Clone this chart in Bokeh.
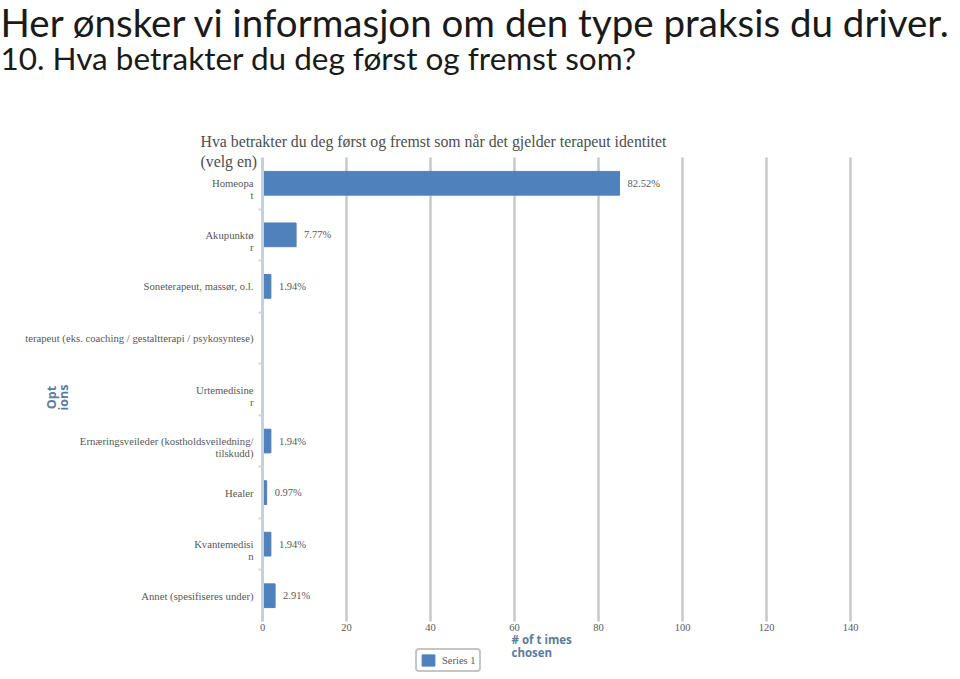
from bokeh.plotting import figure
from bokeh.models import (Range1d, FixedTicker, Label, LabelSet, Grid,
                          ColumnDataSource, Legend, LegendItem)
from bokeh.embed import file_html
from bokeh.resources import INLINE

# ---- data ----
slide_title_1 = "Her ønsker vi informasjon om den type praksis du driver."
slide_title_2 = "10. Hva betrakter du deg først og fremst som?"
chart_title = "Hva betrakter du deg først og fremst som når det gjelder terapeut identitet\n(velg en)"
categories = [
    "Homeopa\nt",
    "Akupunktø\nr",
    "Soneterapeut, massør, o.l.",
    "terapeut (eks. coaching / gestaltterapi / psykosyntese)",
    "Urtemedisine\nr",
    "Ernæringsveileder (kostholdsveiledning/\ntilskudd)",
    "Healer",
    "Kvantemedisi\nn",
    "Annet (spesifiseres under)",
]
counts = [85, 8, 2, 0, 0, 2, 1, 2, 3]
x_ticks = [0, 20, 40, 60, 80, 100, 120, 140]
series_name = "Series 1"
y_axis_title = "Opt\nions"
x_axis_title = "# of t imes\nchosen"

total = sum(counts)
pct_labels = ["%.2f%%" % (c / total * 100) for c in counts]
slots = list(range(len(categories)))  # category slot, 0 = top

# ---- layout constants (pixels) ----
W, H = 956, 677
X0_PX = 262          # pixel of value 0
PX_PER_UNIT = 4.2
TOP_PX, BOT_PX = 157, 621
SLOT_PX = (BOT_PX - TOP_PX) / len(categories)

def sx(px):
    return px

def sy(py):
    return H - py

BAR = "#4f81bd"
TXT = "#595959"
AX = "#5d7b9b"
SERIF = "Liberation Serif"

x_range = Range1d(-X0_PX / PX_PER_UNIT, (W - X0_PX) / PX_PER_UNIT)
y_top = -TOP_PX / SLOT_PX - 0.5
y_bot = (H - TOP_PX) / SLOT_PX - 0.5
y_range = Range1d(start=y_bot, end=y_top)

p = figure(width=W, height=H, output_backend="svg", toolbar_location=None,
           x_range=x_range, y_range=y_range,
           min_border=0, min_border_left=0, min_border_right=0,
           min_border_top=0, min_border_bottom=0)
p.outline_line_color = None
p.background_fill_color = "white"
p.border_fill_color = "white"

src = ColumnDataSource(dict(slot=slots, count=counts, pct=pct_labels))
r = p.hbar(y="slot", right="count", left=0, height=0.46, source=src,
           fill_color=BAR, line_color=BAR)

nz = [i for i, c in enumerate(counts) if c > 0]
lsrc = ColumnDataSource(dict(slot=[slots[i] for i in nz],
                             count=[counts[i] for i in nz],
                             pct=[pct_labels[i] for i in nz]))
p.add_layout(LabelSet(x="count", y="slot", text="pct", source=lsrc, x_offset=8,
                      text_baseline="middle", text_font=SERIF,
                      text_font_size="10.5px", text_color=TXT))

# axes drawn inside the frame
band_lo, band_hi = -0.5, len(categories) - 0.5
xa = p.xaxis[0]
xa.fixed_location = band_hi
xa.ticker = FixedTicker(ticks=x_ticks)
xa.bounds = (x_ticks[0], x_ticks[-1])
xa.axis_line_color = None
xa.major_tick_line_color = None
xa.minor_tick_line_color = None
xa.major_tick_out = 0
xa.major_tick_in = 0
xa.minor_tick_out = 0
xa.major_label_standoff = 2
xa.major_label_text_font = SERIF
xa.major_label_text_font_size = "10.5px"
xa.major_label_text_color = TXT

# multi-line names: first line sits level with the bar, the rest below
tick_text = {s: ("\n" + c if "\n" in c else c) for s, c in zip(slots, categories)}
ya = p.yaxis[0]
ya.fixed_location = 0
ya.ticker = FixedTicker(ticks=slots, minor_ticks=[s + 0.5 for s in slots[:-1]])
ya.major_label_overrides = tick_text
ya.bounds = (band_lo, band_hi)
ya.axis_line_color = "#c6d0dc"
ya.axis_line_width = 3
ya.major_tick_line_color = None
ya.major_tick_out = 0
ya.major_tick_in = 0
ya.minor_tick_line_color = "#cfd6de"
ya.minor_tick_line_width = 2
ya.minor_tick_out = 4
ya.minor_tick_in = 0
ya.major_label_standoff = 5
ya.major_label_text_font = SERIF
ya.major_label_text_font_size = "10.7px"
ya.major_label_text_color = TXT
ya.major_label_text_line_height = 1.0

p.ygrid.grid_line_color = None
p.xgrid.ticker = FixedTicker(ticks=x_ticks[1:])
p.xgrid.grid_line_color = "#c8c8c8"
p.xgrid.grid_line_width = 2.5
if "cross_bounds" in Grid.properties():
    p.xgrid.cross_bounds = (band_lo, band_hi)
else:
    p.xgrid.grid_line_color = None
    p.segment(x0=x_ticks[1:], x1=x_ticks[1:], y0=band_lo, y1=band_hi,
              line_color="#c8c8c8", line_width=2.5, level="underlay")

# texts
p.add_layout(Label(x=sx(0), y=sy(21), x_units="screen", y_units="screen",
                   text=slide_title_1, text_font="Lato", text_font_size="38.5px",
                   text_color="#1a1a1a", text_baseline="alphabetic"))
p.add_layout(Label(x=sx(0), y=sy(57), x_units="screen", y_units="screen",
                   text=slide_title_2, text_font="Lato", text_font_size="31.5px",
                   text_color="#1a1a1a", text_baseline="alphabetic"))
p.add_layout(Label(x=sx(200), y=sy(132), x_units="screen", y_units="screen",
                   text=chart_title, text_font=SERIF, text_font_size="15.8px",
                   text_color="#4d4d4d", text_baseline="top", text_line_height=1.2))
p.add_layout(Label(x=sx(57), y=sy(397), x_units="screen", y_units="screen",
                   text=y_axis_title, text_font="Open Sans", text_font_style="bold",
                   text_font_size="12.5px", text_color=AX, angle=1.5708,
                   text_align="center", text_baseline="middle", text_line_height=0.75))
p.add_layout(Label(x=sx(511), y=sy(631), x_units="screen", y_units="screen",
                   text=x_axis_title, text_font="Open Sans", text_font_style="bold",
                   text_font_size="11.5px", text_color=AX, text_baseline="top",
                   text_line_height=0.9))

legend = Legend(items=[LegendItem(label=series_name, renderers=[r])],
                location=(sx(415), sy(672)), orientation="horizontal",
                label_text_font=SERIF, label_text_font_size="10.5px",
                label_text_color=TXT, glyph_width=16, glyph_height=14,
                label_height=14, label_standoff=6, padding=3, margin=0,
                border_line_color="#8c8c8c", border_line_width=2,
                background_fill_color="white")
if "border_radius" in legend.properties():
    legend.border_radius = 4
p.add_layout(legend, "center")

open("out.html", "w").write(file_html(p, INLINE))
